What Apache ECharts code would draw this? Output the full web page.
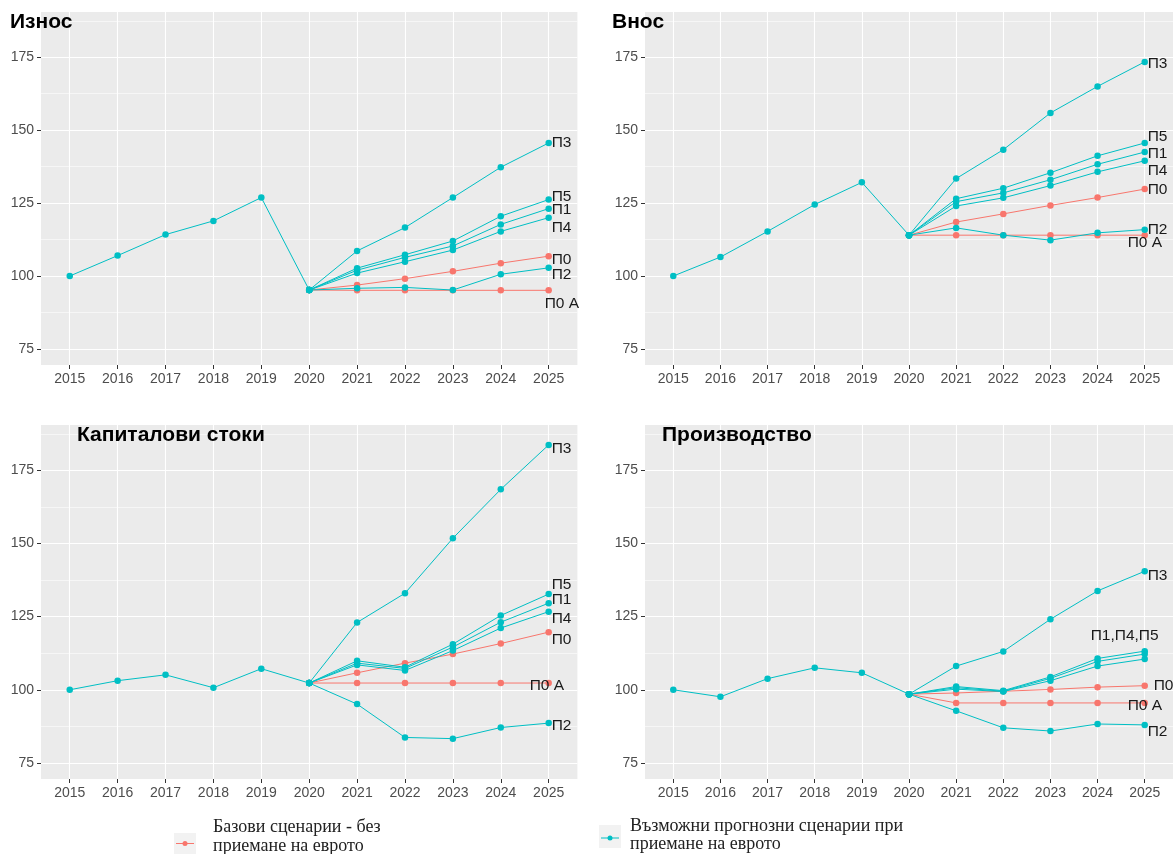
<!DOCTYPE html>
<html>
<head>
<meta charset="utf-8">
<script src="https://cdn.jsdelivr.net/npm/echarts@6/dist/echarts.min.js"></script>
<style>
  html, body { margin: 0; padding: 0; background: #fff; }
  #chart { width: 1173px; height: 854px; }
</style>
</head>
<body>
<div id="chart"></div>
<script>
// years and ticks
const years = [2015, 2016, 2017, 2018, 2019, 2020, 2021, 2022, 2023, 2024, 2025]
const forecastYears = [2021, 2022, 2023, 2024, 2025]
const yTicks = [75, 100, 125, 150, 175]
const yMinor = [87.5, 112.5, 137.5, 162.5, 187.5]
const scenarioNames = ['П0', 'П0 A', 'П1', 'П2', 'П3', 'П4', 'П5']

// Износ
const exportsHistory = [100, 107.0, 114.2, 118.9, 126.9, 95.2]
const exportsP0 = [96.9, 99.1, 101.6, 104.4, 106.8]
const exportsP0A = [95.1, 95.1, 95.1, 95.1, 95.1]
const exportsP1 = [102.0, 106.4, 110.3, 117.7, 123.1]
const exportsP2 = [95.8, 96.1, 95.2, 100.6, 102.8]
const exportsP3 = [108.6, 116.6, 126.9, 137.3, 145.6]
const exportsP4 = [101.0, 104.9, 108.9, 115.3, 120.0]
const exportsP5 = [102.7, 107.3, 112.0, 120.5, 126.2]

// Внос
const importsHistory = [100, 106.5, 115.3, 124.5, 132.1, 114.0]
const importsP0 = [118.5, 121.3, 124.2, 126.9, 129.8]
const importsP0A = [114.0, 114.0, 114.0, 114.0, 114.0]
const importsP1 = [125.5, 128.5, 133.0, 138.3, 142.5]
const importsP2 = [116.5, 114.0, 112.3, 114.8, 115.9]
const importsP3 = [133.4, 143.3, 155.9, 165.0, 173.4]
const importsP4 = [124.0, 126.8, 131.0, 135.7, 139.5]
const importsP5 = [126.5, 130.1, 135.4, 141.2, 145.6]

// Капиталови стоки
const capitalHistory = [100, 103.1, 105.1, 100.7, 107.2, 102.3]
const capitalP0 = [105.8, 109.1, 112.2, 115.8, 119.7]
const capitalP0A = [102.3, 102.3, 102.3, 102.3, 102.3]
const capitalP1 = [109.1, 107.3, 114.6, 123.1, 129.6]
const capitalP2 = [95.1, 83.7, 83.3, 87.1, 88.6]
const capitalP3 = [123.0, 133.0, 151.8, 168.5, 183.7]
const capitalP4 = [108.5, 106.6, 113.4, 121.1, 126.7]
const capitalP5 = [109.9, 107.7, 115.6, 125.4, 132.7]

// Производство
const productionHistory = [100, 97.6, 103.8, 107.5, 105.8, 98.5]
const productionP0 = [98.9, 99.5, 100.1, 100.9, 101.4]
const productionP0A = [95.5, 95.5, 95.5, 95.5, 95.5]
const productionP1 = [100.7, 99.5, 103.9, 109.7, 112.2]
const productionP2 = [92.8, 87.0, 85.9, 88.3, 88.0]
const productionP3 = [108.1, 113.1, 124.1, 133.8, 140.5]
const productionP4 = [100.2, 99.4, 103.1, 108.1, 110.5]
const productionP5 = [101.1, 99.7, 104.4, 110.7, 113.2]

const RED = '#F8766D'
const TEAL = '#00BFC4'
const SANS = '"Liberation Sans", Arial, sans-serif'
const SERIF = '"Liberation Serif", "Times New Roman", serif'

const panels = [
  {
    title: 'Износ', titleAt: [10, 12], left: 41, top: 12, height: 353,
    history: exportsHistory,
    scen: [exportsP0, exportsP0A, exportsP1, exportsP2, exportsP3, exportsP4, exportsP5],
    // end label text and nudge per scenario
    labels: [['П0', 0, 4], ['П0 A', -7, 13], ['П1', 0, 1], ['П2', 0, 7], ['П3', 0, 0], ['П4', 0, 10], ['П5', 0, -3]]
  },
  {
    title: 'Внос', titleAt: [612, 12], left: 645, top: 12, height: 353,
    history: importsHistory,
    scen: [importsP0, importsP0A, importsP1, importsP2, importsP3, importsP4, importsP5],
    labels: [['П0', 0, 1], ['П0 A', -20, 8], ['П1', 0, 2], ['П2', 0, 0], ['П3', 0, 2], ['П4', 0, 10], ['П5', 0, -6]]
  },
  {
    title: 'Капиталови стоки', titleAt: [77, 425], left: 41, top: 425, height: 354,
    history: capitalHistory,
    scen: [capitalP0, capitalP0A, capitalP1, capitalP2, capitalP3, capitalP4, capitalP5],
    labels: [['П0', 0, 8], ['П0 A', -22, 3], ['П1', 0, -3], ['П2', 0, 3], ['П3', 0, 4], ['П4', 0, 7], ['П5', 0, -9]]
  },
  {
    title: 'Производство', titleAt: [662, 425], left: 645, top: 425, height: 354,
    history: productionHistory,
    scen: [productionP0, productionP0A, productionP1, productionP2, productionP3, productionP4, productionP5],
    labels: [['П0', 6, 0], ['П0 A', -20, 3], null, ['П2', 0, 7], ['П3', 0, 4], null, ['П1,П4,П5', -57, -15]]
  }
]

const grids = []
const xAxes = []
const yAxes = []
const titles = []
const series = []

panels.forEach((p, i) => {
  grids.push({
    left: p.left, top: p.top, width: 536.4, height: p.height,
    show: true, backgroundColor: '#ebebeb', borderWidth: 0
  })
  titles.push({
    text: p.title, left: p.titleAt[0], top: p.titleAt[1], padding: 0,
    textStyle: { fontFamily: SANS, fontSize: 21, fontWeight: 'bold', color: '#000' }
  })
  xAxes.push({
    gridIndex: i, type: 'value', min: 2014.4, max: 2025.6,
    splitLine: { show: false },
    axisLine: { show: false },
    axisTick: { customValues: years, length: 4, lineStyle: { color: '#333' } },
    axisLabel: {
      customValues: years, margin: 7, color: '#4d4d4d', fontSize: 14, fontFamily: SANS,
      formatter: v => String(v)
    }
  })
  yAxes.push({
    gridIndex: i, type: 'value', min: 69.5, max: 190.5,
    splitLine: { show: false },
    axisLine: { show: false },
    axisTick: { customValues: yTicks, length: 4, lineStyle: { color: '#333' } },
    axisLabel: { customValues: yTicks, margin: 7, color: '#4d4d4d', fontSize: 14, fontFamily: SANS }
  })

  // panel grid lines (ggplot style) as white mark lines under the data
  const gridLines = []
    .concat(yTicks.map(v => ({ yAxis: v, lineStyle: { width: 1.1 } })))
    .concat(yMinor.map(v => ({ yAxis: v, lineStyle: { width: 0.55 } })))
    .concat(years.map(v => ({ xAxis: v, lineStyle: { width: 1.1 } })))

  series.push({
    type: 'line', xAxisIndex: i, yAxisIndex: i, z: 3,
    data: years.slice(0, 6).map((y, k) => [y, p.history[k]]),
    color: TEAL, symbol: 'circle', symbolSize: 6.5,
    lineStyle: { width: 1 },
    markLine: {
      silent: true, z: 1, symbol: ['none', 'none'], animation: false,
      label: { show: false },
      lineStyle: { color: '#ffffff', type: 'solid' },
      data: gridLines
    }
  })

  scenarioNames.forEach((name, s) => {
    const isBase = name === 'П0' || name === 'П0 A'
    const lab = p.labels[s]
    series.push({
      name: name, type: 'line', xAxisIndex: i, yAxisIndex: i,
      z: isBase ? 2 : 3,
      data: [[2020, p.history[5]]].concat(forecastYears.map((y, k) => [y, p.scen[s][k]])),
      color: isBase ? RED : TEAL, symbol: 'circle', symbolSize: 6.5,
      lineStyle: { width: 1 },
      endLabel: lab ? {
        show: true, formatter: lab[0], distance: 3, offset: [lab[1], lab[2]],
        color: '#1a1a1a', fontSize: 15.5, fontFamily: SANS
      } : { show: false }
    })
  })
})

// bottom legend, drawn like the ggplot keys
const legendGraphics = [
  { type: 'rect', shape: { x: 174, y: 833, width: 22, height: 21 }, style: { fill: '#f2f2f2' } },
  { type: 'line', shape: { x1: 176, y1: 843.5, x2: 194, y2: 843.5 }, style: { stroke: RED, lineWidth: 1 } },
  { type: 'circle', shape: { cx: 185, cy: 843.5, r: 2.5 }, style: { fill: RED } },
  {
    type: 'text', x: 213, y: 818,
    style: { text: 'Базови сценарии - без\nприемане на еврото', font: '18px ' + SERIF, lineHeight: 19, fill: '#222', verticalAlign: 'top' }
  },
  { type: 'rect', shape: { x: 599, y: 825, width: 22, height: 23 }, style: { fill: '#f2f2f2' } },
  { type: 'line', shape: { x1: 601, y1: 838, x2: 619, y2: 838 }, style: { stroke: TEAL, lineWidth: 1 } },
  { type: 'circle', shape: { cx: 610, cy: 838, r: 2.5 }, style: { fill: TEAL } },
  {
    type: 'text', x: 630, y: 817,
    style: { text: 'Възможни прогнозни сценарии при\nприемане на еврото', font: '18px ' + SERIF, lineHeight: 18, fill: '#222', verticalAlign: 'top' }
  }
]

const chart = echarts.init(document.getElementById('chart'))
chart.setOption({
  animation: false,
  backgroundColor: '#ffffff',
  title: titles,
  grid: grids,
  xAxis: xAxes,
  yAxis: yAxes,
  series: series,
  graphic: legendGraphics
})
</script>
</body>
</html>
